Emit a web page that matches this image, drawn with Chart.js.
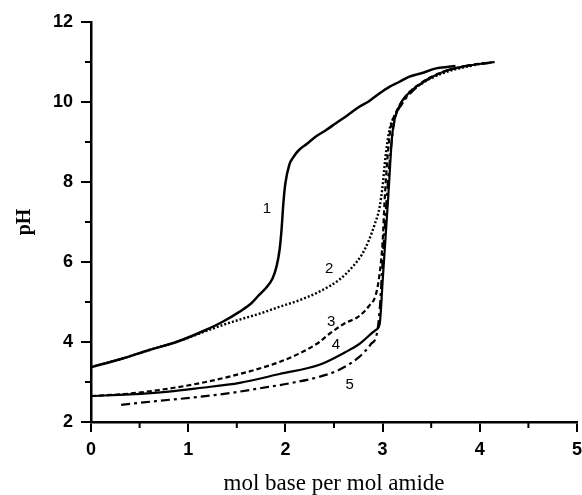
<!DOCTYPE html>
<html>
<head>
<meta charset="utf-8">
<script src="https://cdn.jsdelivr.net/npm/chart.js@4.4.0/dist/chart.umd.min.js"></script>
<style>
  html, body { margin: 0; padding: 0; background: #fff; }
  #wrap { width: 582px; height: 495px; position: relative; }
</style>
</head>
<body>
<div id="wrap"><canvas id="chart"></canvas></div>
<script>
// titration curves
const curve1X = [0, 0.3, 0.6, 0.9, 1.18, 1.35, 1.53, 1.65, 1.73, 1.8, 1.87, 1.91, 1.94, 1.96, 1.98, 2.0, 2.04, 2.09, 2.14, 2.22, 2.31, 2.42, 2.52, 2.64, 2.76, 2.86, 2.97, 3.07, 3.17, 3.27, 3.4, 3.55, 3.68, 3.75];
const curve1Y = [3.37, 3.57, 3.8, 4.02, 4.3, 4.5, 4.76, 4.97, 5.18, 5.35, 5.6, 5.9, 6.3, 6.8, 7.5, 7.97, 8.43, 8.65, 8.8, 8.95, 9.13, 9.3, 9.47, 9.67, 9.88, 10.02, 10.22, 10.38, 10.5, 10.63, 10.72, 10.84, 10.88, 10.9];

const curve2X = [0, 0.3, 0.6, 0.9, 1.18, 1.35, 1.53, 1.75, 1.94, 2.15, 2.35, 2.55, 2.68, 2.79, 2.86, 2.92, 2.97, 3.0, 3.03, 3.07, 3.14, 3.24, 3.41, 3.62, 3.86, 4.0, 4.15];
const curve2Y = [3.37, 3.57, 3.8, 4.02, 4.27, 4.42, 4.56, 4.72, 4.88, 5.05, 5.26, 5.55, 5.85, 6.2, 6.55, 6.95, 7.38, 7.9, 8.63, 9.3, 9.72, 10.13, 10.47, 10.72, 10.88, 10.95, 11.0];

const curve3X = [0, 0.35, 0.7, 1.12, 1.53, 1.94, 2.15, 2.35, 2.45, 2.6, 2.76, 2.86, 2.93, 2.97, 3.0, 3.02, 3.05, 3.08, 3.14, 3.24, 3.41, 3.62, 3.86, 4.15];
const curve3Y = [2.65, 2.7, 2.8, 2.97, 3.2, 3.5, 3.72, 4.0, 4.2, 4.45, 4.65, 4.9, 5.18, 5.72, 6.5, 7.5, 8.6, 9.3, 9.75, 10.15, 10.5, 10.75, 10.9, 11.0];

const curve4X = [0, 0.4, 0.8, 1.12, 1.53, 1.94, 2.35, 2.62, 2.76, 2.93, 2.97, 3.0, 3.03, 3.06, 3.1, 3.17, 3.26, 3.42, 3.62, 3.86, 4.1];
const curve4Y = [2.65, 2.69, 2.76, 2.85, 2.98, 3.2, 3.43, 3.75, 3.95, 4.3, 4.45, 5.5, 6.6, 7.7, 9.2, 9.88, 10.2, 10.5, 10.75, 10.9, 10.98];

const curve5X = [0.31, 0.7, 1.12, 1.45, 1.73, 2.05, 2.35, 2.55, 2.76, 2.88, 2.94, 2.97, 3.0, 3.04, 3.08, 3.12, 3.2, 3.3, 3.45, 3.65, 3.9, 4.15];
const curve5Y = [2.43, 2.53, 2.63, 2.73, 2.84, 2.97, 3.13, 3.3, 3.63, 3.95, 4.2, 4.8, 6.0, 7.5, 8.7, 9.5, 9.95, 10.25, 10.55, 10.78, 10.92, 11.0];

const curveNames = ["1", "2", "3", "4", "5"];
const nameX = [1.81, 2.45, 2.47, 2.52, 2.66];
const nameY = [7.33, 5.84, 4.51, 3.93, 2.93];

const xMinorTicks = [0.5, 1.5, 2.5, 3.5, 4.5];
const yMinorTicks = [3, 5, 7, 9, 11];

const pts = (xs, ys) => xs.map((x, i) => ({ x: x, y: ys[i] }));

const line = (data, width, dash) => ({
  data: data,
  borderColor: "#000",
  borderWidth: width,
  borderDash: dash,
  pointRadius: 0,
  fill: false,
  cubicInterpolationMode: "monotone"
});

// small ticks between the labelled ones + the curve numbers
const extras = {
  id: "extras",
  afterDraw(chart) {
    const ctx = chart.ctx;
    const xs = chart.scales.x, ys = chart.scales.y;
    const area = chart.chartArea;
    ctx.save();
    ctx.strokeStyle = "#000";
    ctx.lineWidth = 2;
    xMinorTicks.forEach(v => {
      const px = xs.getPixelForValue(v);
      ctx.beginPath();
      ctx.moveTo(px, area.bottom);
      ctx.lineTo(px, area.bottom + 6);
      ctx.stroke();
    });
    yMinorTicks.forEach(v => {
      const py = ys.getPixelForValue(v);
      ctx.beginPath();
      ctx.moveTo(area.left, py);
      ctx.lineTo(area.left - 6, py);
      ctx.stroke();
    });
    ctx.fillStyle = "#000";
    ctx.font = "15px 'Liberation Sans', Arial, sans-serif";
    ctx.textAlign = "center";
    ctx.textBaseline = "middle";
    curveNames.forEach((n, i) => {
      ctx.fillText(n, xs.getPixelForValue(nameX[i]), ys.getPixelForValue(nameY[i]));
    });
    ctx.restore();
  }
};

new Chart(document.getElementById("chart"), {
  type: "line",
  data: {
    datasets: [
      line(pts(curve1X, curve1Y), 2.5, []),
      line(pts(curve2X, curve2Y), 2.4, [2, 2]),
      line(pts(curve3X, curve3Y), 2.2, [5, 3]),
      line(pts(curve4X, curve4Y), 2.2, []),
      line(pts(curve5X, curve5Y), 2.2, [9, 4, 3, 4])
    ]
  },
  options: {
    responsive: true,
    maintainAspectRatio: false,
    animation: false,
    layout: { padding: { top: 22, right: 0, left: 0, bottom: 0 } },
    plugins: {
      legend: { display: false },
      tooltip: { enabled: false }
    },
    scales: {
      x: {
        type: "linear",
        min: 0,
        max: 5,
        afterFit: s => { s.height = 73; },
        border: { color: "#000", width: 2.5 },
        grid: { drawOnChartArea: false, color: "#000", lineWidth: 2, tickLength: 10 },
        ticks: {
          stepSize: 1,
          color: "#000",
          padding: 0,
          // tall line box pushes the labels down without widening the side padding
          font: { family: "'Liberation Sans', Arial, sans-serif", size: 18, weight: "bold", lineHeight: 2 }
        },
        title: {
          display: true,
          text: "mol base per mol amide",
          color: "#000",
          padding: { top: 0, bottom: 0 },
          font: { family: "'Liberation Serif', 'Times New Roman', serif", size: 23, lineHeight: 1 }
        }
      },
      y: {
        min: 2,
        max: 12,
        afterFit: s => { s.width = 91; },
        border: { color: "#000", width: 2.5 },
        grid: { drawOnChartArea: false, color: "#000", lineWidth: 2, tickLength: 10 },
        ticks: {
          stepSize: 2,
          color: "#000",
          padding: 8,
          font: { family: "'Liberation Sans', Arial, sans-serif", size: 18, weight: "bold" }
        },
        title: {
          display: true,
          text: "pH",
          color: "#000",
          padding: { top: 13, bottom: 0 },
          font: { family: "'Liberation Serif', 'Times New Roman', serif", size: 20, weight: "bold" }
        }
      }
    }
  },
  plugins: [extras]
});
</script>
</body>
</html>
